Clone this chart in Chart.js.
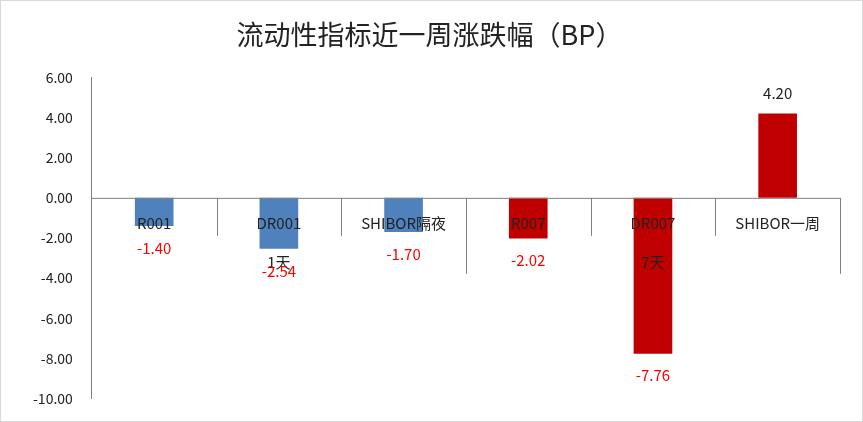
<!DOCTYPE html>
<html><head><meta charset="utf-8">
<script src="https://cdn.jsdelivr.net/npm/chart.js@4"></script>
<style>html,body{margin:0;padding:0;background:#fff}
#w{width:861px;height:420px;border:1px solid #d9d9d9;position:relative}</style>
</head><body><div id="w"><canvas id="c"></canvas></div>
<script>
const categories=["R001","DR001","SHIBOR隔夜","R007","DR007","SHIBOR一周"];
const groups=["1天","7天"];
const values=[-1.40,-2.54,-1.70,-2.02,-7.76,4.20];
const barColors=["#4F81BD","#4F81BD","#4F81BD","#C00000","#C00000","#C00000"];
const FONT="'Noto Sans CJK SC','Noto Sans',sans-serif";
const overlay={id:'ov',afterDatasetsDraw(ch){
 const ctx=ch.ctx,x=ch.scales.x,y=ch.scales.y,y0=y.getPixelForValue(0);
 const half=(x.getPixelForValue(1)-x.getPixelForValue(0))/2;
 ctx.save();ctx.strokeStyle='#808080';ctx.lineWidth=1;
 ctx.beginPath();ctx.moveTo(x.left,y0+0.5);ctx.lineTo(x.right,y0+0.5);ctx.stroke();
 for(let i=0;i<categories.length;i++){
  const xb=Math.round(x.getPixelForValue(i)+half)+0.5;
  const deep=(i===2||i===5);
  ctx.beginPath();ctx.moveTo(xb,y0);ctx.lineTo(xb,y0+(deep?76:38));ctx.stroke();
 }
 ctx.font="15px "+FONT;ctx.textAlign='center';ctx.textBaseline='middle';ctx.fillStyle='#222';
 categories.forEach((c,i)=>ctx.fillText(c,x.getPixelForValue(i),y0+25));
 groups.forEach((g,k)=>ctx.fillText(g,x.getPixelForValue(k*3+1),y0+64));
 values.forEach((v,i)=>{
  const p=y.getPixelForValue(v);
  ctx.fillStyle=v<0?'#FF0000':'#222';
  ctx.fillText(v.toFixed(2),x.getPixelForValue(i),v<0?p+22:p-20);
 });
 ctx.restore();
}};
new Chart(document.getElementById('c'),{type:'bar',
 data:{labels:categories,datasets:[{data:values,backgroundColor:barColors,categoryPercentage:1,barPercentage:0.31}]},
 options:{responsive:true,maintainAspectRatio:false,animation:false,
  layout:{padding:{left:18,right:22,top:0,bottom:22}},
  plugins:{legend:{display:false},tooltip:{enabled:false},
   title:{display:true,text:'流动性指标近一周涨跌幅（BP）',font:{family:FONT,size:27,weight:'normal'},color:'#222',padding:{top:18,bottom:26}}},
  scales:{
   x:{display:false},
   y:{min:-10,max:6,ticks:{stepSize:2,callback:v=>v.toFixed(2),font:{family:FONT,size:14},color:'#222',padding:14},
    grid:{display:false,drawTicks:true,tickLength:5},border:{display:true,color:'#808080'}}
  }}
 ,plugins:[overlay]});
</script></body></html>
